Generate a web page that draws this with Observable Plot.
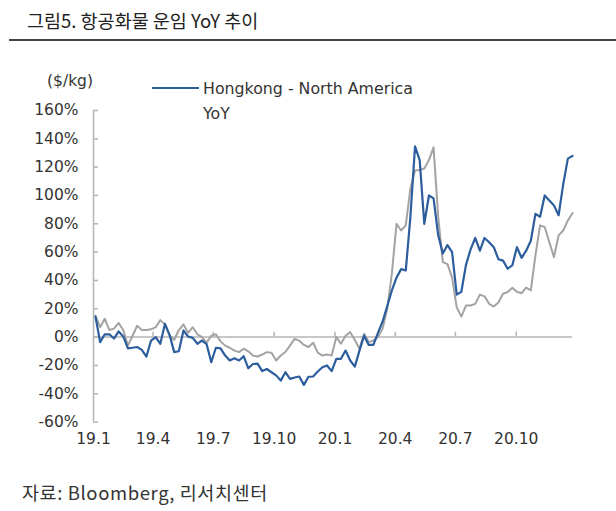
<!DOCTYPE html>
<html>
<head>
<meta charset="utf-8">
<script src="https://cdn.jsdelivr.net/npm/d3@7"></script>
<script src="https://cdn.jsdelivr.net/npm/@observablehq/plot@0.6"></script>
<style>
  body { margin: 0; background: #fff; width: 616px; height: 511px; position: relative; overflow: hidden;
         font-family: "DejaVu Sans", sans-serif; color: #333; }
  #title { position: absolute; left: 27px; top: 6px; font-family: "Noto Sans CJK KR", sans-serif;
           font-size: 18.5px; line-height: 28px; color: #222; white-space: nowrap; }
  #title-rule { position: absolute; left: 9px; top: 39px; width: 607px; height: 2px; background: #444; }
  #chart { position: absolute; left: 0; top: 0; }
  #unit { position: absolute; left: 47px; top: 70px; font-size: 15.5px; line-height: 22px; color: #333; }
  #legend { position: absolute; left: 152px; top: 76px; font-size: 15.8px; line-height: 25px; color: #333; }
  #legend .swatch { position: absolute; left: 0; top: 11px; width: 47px; height: 2px; }
  #legend .label { position: absolute; left: 51px; top: 0; white-space: nowrap; }
  #source { position: absolute; left: 22px; top: 478px; font-family: "Noto Sans CJK KR", sans-serif;
            font-size: 18.5px; letter-spacing: 0.6px; line-height: 28px; color: #333; white-space: nowrap; }
</style>
</head>
<body>
<div id="title">그림5. 항공화물 운임 YoY 추이</div>
<div id="title-rule"></div>
<div id="chart"></div>
<div id="unit"></div>
<div id="legend"></div>
<div id="source">자료: Bloomberg, 리서치센터</div>
<script>
// Weekly YoY change (%) of air cargo rates, first week of 2019 through late 2020.
const firstWeek = "2019-01-04";

// Hongkong - North America YoY (%)
const hkNorthAmerica = [
  14.5, -3.5, 2, 2, -1, 4, 0.5, -8, -7.5, -7,
  -9, -13.7, -2.4, 0, -4.7, 9.4, 1.6, -10.6, -10, 4.7,
  0.4, -0.5, -4.7, -2.4, -5, -17.7, -7.5, -8, -13, -16.5,
  -15, -16.5, -13.5, -22, -19, -18.7, -24, -22.5, -24.8, -27,
  -30.7, -24.8, -29.5, -28.5, -27.8, -33.7, -28, -27.8, -24.3, -21.3,
  -20, -24, -15.3, -15.3, -9.5, -16.5, -20.8, -9.5, 1, -5.5,
  -5.5, 3, 11, 22, 33, 42, 48, 47, 85, 134.7,
  125, 80, 100, 98, 72, 59, 65, 60, 30, 32,
  51, 62, 70, 61, 70, 67, 63.5, 55, 54, 48.3,
  50.6, 63.5, 56, 61, 68, 87, 85, 100, 96.5, 93,
  86, 108, 126, 128
];

// Second lane YoY (%), drawn in grey
const otherLane = [
  15, 7, 13, 5, 6, 10, 5, -6, 1, 8,
  5, 5, 5.5, 7, 12, 9, 1, -2, 5, 9,
  3, 7, 2, 0, -4, 1, 2, -3, -6, -7.5,
  -9.5, -10.6, -8.2, -10, -13, -13.7, -12.3, -10.6, -11, -16.5,
  -13, -10.5, -6, -1.2, -2.5, -5.5, -7, -4, -11, -13,
  -12.3, -13, 0, -4.7, 1, 3.5, -2, -8.2, 2.4, -3.5,
  -2.4, 0, 6, 20, 45, 80, 75.3, 78.9, 105, 117.7,
  118, 119, 125, 134, 85, 53, 51.5, 42, 21, 14.5,
  22.3, 22.3, 23.5, 30, 28.8, 23.5, 21.6, 24.5, 30.6, 31.8,
  34.8, 32, 31, 35, 33, 57.7, 78.9, 77.7, 67, 56.5,
  71.8, 75.3, 82.4, 87.6
];

const xTickLabels = ["19.1", "19.4", "19.7", "19.10", "20.1", "20.4", "20.7", "20.10"];
const yTicks = [-60, -40, -20, 0, 20, 40, 60, 80, 100, 120, 140, 160];
const unitLabel = "($/kg)";
const seriesNames = ["Hongkong - North America", "YoY"];

const colors = { hk: "#2c5d9c", other: "#a3a3a3", axis: "#b5b5b5", text: "#333" };

// table of weekly rows
const start = new Date(firstWeek + "T00:00:00Z");
const rows = hkNorthAmerica.map((v, i) => ({
  date: d3.utcDay.offset(start, 7 * i),
  hk: v,
  other: otherLane[i]
}));

// quarter ticks come from the "yy.m" labels
const tickDates = xTickLabels.map(s => {
  const [yy, m] = s.split(".").map(Number);
  return new Date(Date.UTC(2000 + yy, m - 1, 1));
});
const labelFor = d => xTickLabels[tickDates.findIndex(t => +t === +d)];

const xStart = tickDates[0];
const xEnd = rows[rows.length - 1].date;

const chart = Plot.plot({
  width: 616,
  height: 460,
  marginLeft: 93,
  marginRight: 44,
  marginTop: 110,
  marginBottom: 38.4,
  x: { type: "utc", domain: [xStart, xEnd] },
  y: { domain: [-60, 160] },
  style: { fontFamily: "DejaVu Sans, sans-serif", fontSize: "15.5px", color: colors.text, background: "transparent" },
  marks: [
    Plot.ruleX([xStart], { stroke: colors.axis, strokeWidth: 1.5 }),
    Plot.ruleY([0], { stroke: colors.axis, strokeWidth: 1.5 }),
    Plot.ruleX(tickDates.slice(1), { y1: 0, y2: 3.5, stroke: colors.axis, strokeWidth: 1.5 }),
    Plot.axisY({ ticks: yTicks, tickSize: 5, dx: 5, fill: "none", stroke: colors.axis, strokeWidth: 1.5, label: null }),
    Plot.axisY({ ticks: yTicks, tickSize: 0, tickPadding: 15, stroke: "none", fill: colors.text,
                 tickFormat: d => d + "%", label: null }),
    Plot.axisX({ ticks: tickDates, tickSize: 0, tickPadding: 11, fill: colors.text,
                 tickFormat: labelFor, label: null }),
    Plot.line(rows, { x: "date", y: "other", stroke: colors.other, strokeWidth: 2 }),
    Plot.line(rows, { x: "date", y: "hk", stroke: colors.hk, strokeWidth: 2.2 })
  ]
});
document.getElementById("chart").appendChild(chart);

document.getElementById("unit").textContent = unitLabel;

const legend = document.getElementById("legend");
const sw = document.createElement("div");
sw.className = "swatch";
sw.style.background = colors.hk;
legend.appendChild(sw);
const lab = document.createElement("div");
lab.className = "label";
lab.innerHTML = seriesNames.join("<br>");
legend.appendChild(lab);
</script>
</body>
</html>
